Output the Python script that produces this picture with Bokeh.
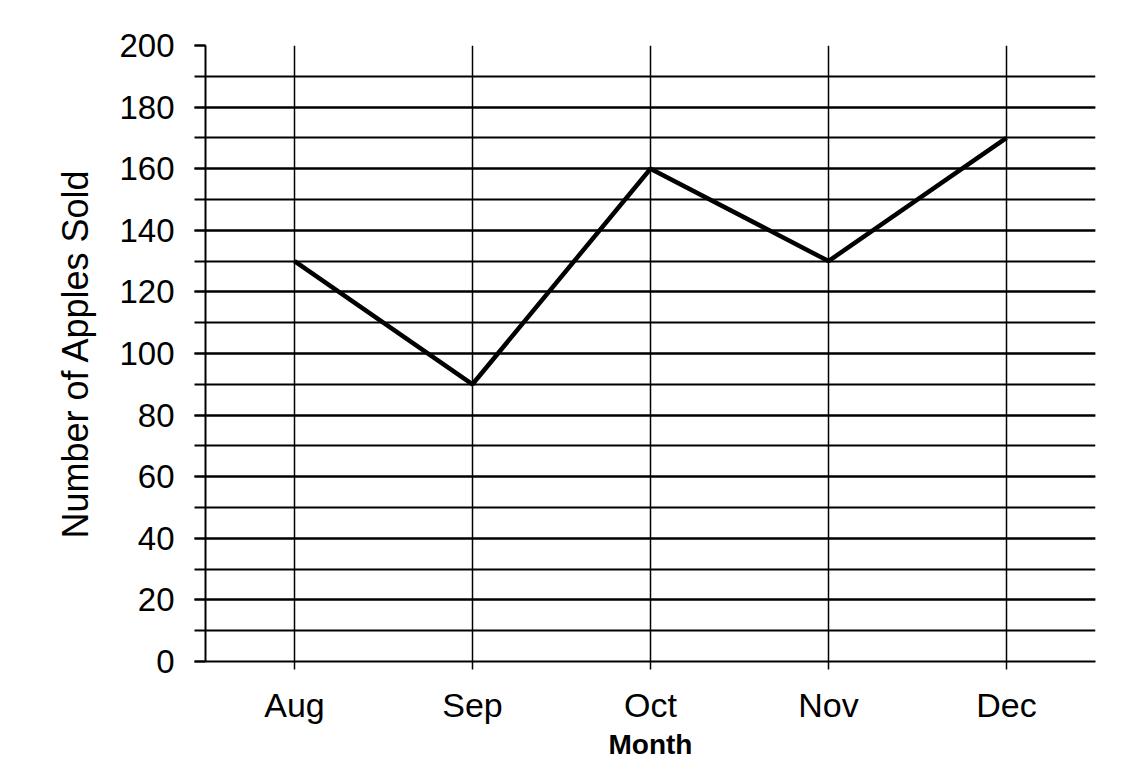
from bokeh.plotting import figure
from bokeh.models import FactorRange, Range1d, SingleIntervalTicker
from bokeh.embed import file_html
from bokeh.resources import INLINE

months = ["Aug", "Sep", "Oct", "Nov", "Dec"]
apples_sold = [130, 90, 160, 130, 170]
y_tick_interval = 20

FONT = "Liberation Sans"

p = figure(
    x_range=FactorRange(*months, range_padding=0),
    y_range=Range1d(0, 200),
    width=1118, height=762,
    output_backend="svg", toolbar_location=None,
    min_border_left=205, min_border_right=23,
    min_border_top=45, min_border_bottom=100,
)
p.outline_line_color = None
p.background_fill_color = "white"
p.border_fill_color = "white"

# y axis
p.yaxis.ticker = SingleIntervalTicker(interval=y_tick_interval, num_minor_ticks=2)
p.yaxis.axis_label = "Number of Apples Sold"
p.yaxis.axis_label_text_font = FONT
p.yaxis.axis_label_text_font_size = "36px"
p.yaxis.axis_label_text_font_style = "normal"
p.yaxis.axis_label_text_color = "black"
p.yaxis.axis_label_standoff = 20
p.yaxis.major_label_text_font = FONT
p.yaxis.major_label_text_font_size = "33px"
p.yaxis.major_label_text_color = "black"
p.yaxis.major_label_standoff = 20
p.yaxis.major_tick_out = 11
p.yaxis.major_tick_in = 0
p.yaxis.minor_tick_out = 11
p.yaxis.minor_tick_in = 0
p.yaxis.major_tick_line_color = "black"
p.yaxis.minor_tick_line_color = "black"
p.yaxis.major_tick_line_width = 2
p.yaxis.minor_tick_line_width = 2
p.yaxis.axis_line_color = "black"
p.yaxis.axis_line_width = 2

# x axis
p.xaxis.axis_label = "Month"
p.xaxis.axis_label_text_font = FONT
p.xaxis.axis_label_text_font_size = "28px"
p.xaxis.axis_label_text_font_style = "bold"
p.xaxis.axis_label_text_color = "black"
p.xaxis.axis_label_standoff = 2
p.xaxis.major_label_text_font = FONT
p.xaxis.major_label_text_font_size = "34px"
p.xaxis.major_label_text_color = "black"
p.xaxis.major_label_standoff = 16
p.xaxis.major_tick_out = 8
p.xaxis.major_tick_in = 0
p.xaxis.major_tick_line_color = "black"
p.xaxis.major_tick_line_width = 1.5
p.xaxis.axis_line_color = "black"
p.xaxis.axis_line_width = 2

# grids
p.ygrid.grid_line_color = "black"
p.ygrid.grid_line_width = 2
p.ygrid.minor_grid_line_color = "black"
p.ygrid.minor_grid_line_width = 2
p.xgrid.grid_line_color = "black"
p.xgrid.grid_line_width = 1.5

p.line(months, apples_sold, line_color="black", line_width=4.5)

open("out.html", "w").write(file_html(p, INLINE))
